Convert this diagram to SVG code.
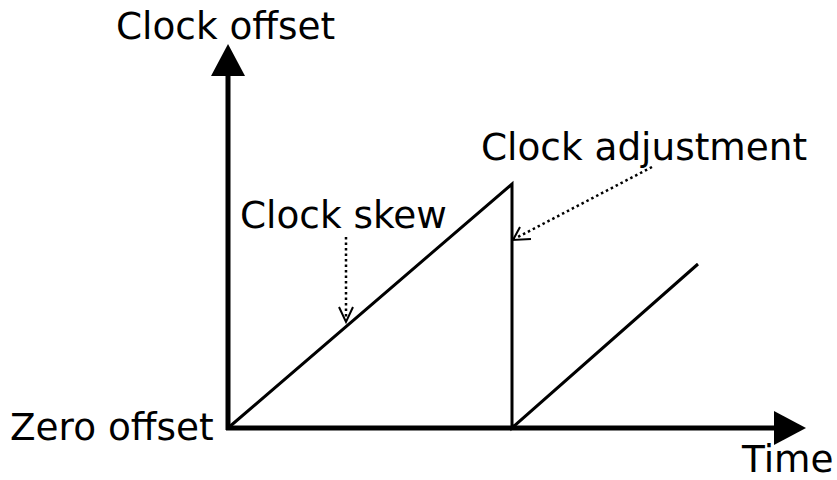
<svg xmlns="http://www.w3.org/2000/svg" width="837" height="480" viewBox="0 0 837 480">
<style>
text{font-family:"DejaVu Sans",sans-serif;font-size:37.4px;fill:#000}
.axis{stroke:#000;stroke-width:5;fill:none}
.saw{stroke:#000;stroke-width:3;fill:none}
.dot{stroke:#000;stroke-width:2.5;stroke-dasharray:2.5,3;fill:none}
.head{stroke:#000;stroke-width:2;fill:none}
</style>
<rect width="837" height="480" fill="#fff"/>
<g id="connectors">
<line class="axis" x1="228" y1="430" x2="228" y2="70"/>
<polygon points="228,44 211,76 245,76" fill="#000"/>
<line class="axis" x1="226" y1="428" x2="780" y2="428"/>
<polygon points="806,428 774,411 774,445" fill="#000"/>
<polyline class="saw" points="228,428 512,184 512,428 698,264"/>
<line class="dot" x1="346" y1="237" x2="346" y2="320"/>
<polyline class="head" points="339,307 346,322 353,307"/>
<line class="dot" x1="652" y1="167" x2="516" y2="238"/>
<polyline class="head" points="520,227 513,240 531,239"/>
</g>
<g id="title"><text x="116" y="39">Clock offset</text></g>
<g id="skew"><text x="240" y="228">Clock skew</text></g>
<g id="adjust"><text x="481" y="160">Clock adjustment</text></g>
<g id="zero"><text x="10" y="440">Zero offset</text></g>
<g id="time"><text x="742" y="472">Time</text></g>
</svg>
